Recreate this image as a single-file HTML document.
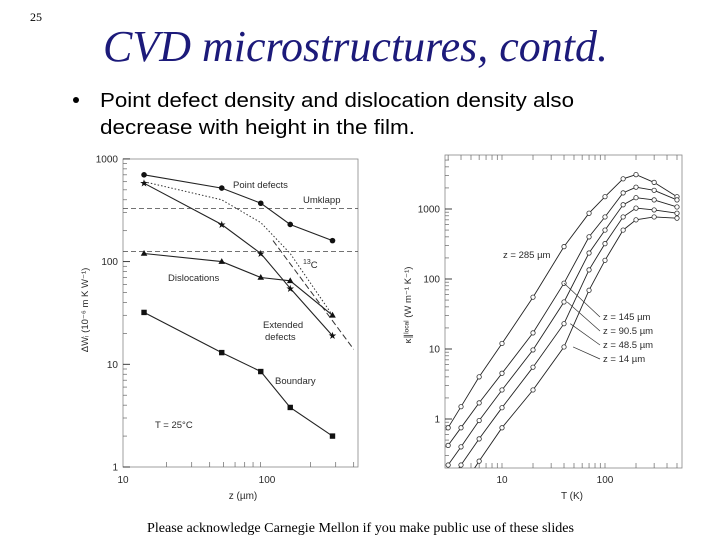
<!DOCTYPE html>
<html><head><meta charset="utf-8"><style>
html,body{margin:0;padding:0;background:#fff;}
svg{display:block;}
</style></head><body>
<svg id="page" width="720" height="540" viewBox="0 0 720 540" xmlns="http://www.w3.org/2000/svg">
<text x="30" y="21" font-family="Liberation Serif, serif" font-size="12" fill="#000">25</text>
<text x="103" y="61" font-family="Liberation Serif, serif" font-style="italic" font-size="44" fill="#1c1a7a" textLength="505" lengthAdjust="spacingAndGlyphs">CVD microstructures, contd.</text>
<circle cx="76" cy="100" r="3" fill="#000"/>
<text x="100" y="107" font-family="Liberation Sans, sans-serif" font-size="20" fill="#000" textLength="474" lengthAdjust="spacingAndGlyphs">Point defect density and dislocation density also</text>
<text x="100" y="134" font-family="Liberation Sans, sans-serif" font-size="20" fill="#000" textLength="315" lengthAdjust="spacingAndGlyphs">decrease with height in the film.</text>
<text x="147" y="532" font-family="Liberation Serif, serif" font-size="14" fill="#000" textLength="427" lengthAdjust="spacingAndGlyphs">Please acknowledge Carnegie Mellon if you make public use of these slides</text>
<g id="left"></g>
<g id="right"></g>
</svg>
<script>
// ---- Left chart data ----
const zPos = [14, 48.5, 90.5, 145, 285];
const pointDefects = [700, 520, 370, 230, 160];
const extendedDefects = [580, 230, 120, 55, 19];
const dislocations = [120, 100, 70, 65, 30];
const boundary = [32, 13, 8.5, 3.8, 2];
const dottedZ = [14, 48.5, 90.5, 145, 285];
const dottedVal = [600, 400, 240, 120, 30];
const dashedZ = [110, 400];
const dashedVal = [160, 14];
const umklapp = 330;
const c13 = 125;
const leftYTicks = [1, 10, 100, 1000];
const leftXTicks = [10, 100];

// ---- Right chart data ----
const temps = [3, 4, 6, 10, 20, 40, 70, 100, 150, 200, 300, 500];
const k285 = [0.75, 1.5, 4, 12, 55, 290, 870, 1500, 2700, 3100, 2400, 1500];
const k145 = [0.42, 0.75, 1.7, 4.5, 17, 87, 400, 770, 1700, 2050, 1850, 1350];
const k90 = [0.22, 0.4, 0.95, 2.6, 9.7, 47, 235, 500, 1150, 1450, 1350, 1070];
const k48 = [0.12, 0.22, 0.52, 1.45, 5.5, 23, 135, 320, 770, 1030, 970, 870];
const k14 = [0.05, 0.1, 0.25, 0.75, 2.6, 10.7, 69, 185, 500, 700, 770, 740];
const curveLabels = ["z = 285 \u00b5m", "z = 145 \u00b5m", "z = 90.5 \u00b5m", "z = 48.5 \u00b5m", "z = 14 \u00b5m"];
const rightYTicks = [1, 10, 100, 1000];
const rightXTicks = [10, 100];

const NS = "http://www.w3.org/2000/svg";
function mk(parent, tag, attrs) {
  const e = document.createElementNS(NS, tag);
  for (const k in attrs) e.setAttribute(k, attrs[k]);
  parent.appendChild(e);
  return e;
}
const INK = "#2a2a2a";
const FONT = "Liberation Sans, sans-serif";

// ---- Left chart ----
const L = document.getElementById('left');
const lx = v => 123 + (Math.log10(v) - 1) * 144;
const ly = v => 467 - Math.log10(v) * 102.7;
let el;
el = mk(L, 'rect', {x:123, y:159, width:235, height:308, fill:'none', stroke:'#888', 'stroke-width':0.8});


for (let d = 0; d < 3; d++) for (let m = 2; m <= 9; m++) {
  const v = Math.pow(10, d) * m;
  el = mk(L, 'line', {x1:123, x2:127, y1:ly(v), y2:ly(v), stroke:'#666', 'stroke-width':0.7});
  
  
}
leftYTicks.forEach(v => {
  el = mk(L, 'line', {x1:123, x2:130, y1:ly(v), y2:ly(v), stroke:INK, 'stroke-width':0.9});
  
  
  el = mk(L, 'text', {x:118, y:ly(v)+3.5, 'text-anchor':'end', 'font-family':FONT, 'font-size':10, fill:INK});
  el.textContent = String(v);
  
  
});
leftXTicks.forEach(v => {
  el = mk(L, 'text', {x:lx(v), y:483, 'text-anchor':'middle', 'font-family':FONT, 'font-size':10, fill:INK});
  el.textContent = String(v);
  
  
});
for (let m = 2; m <= 40; m++) {
  const v = m <= 9 ? m * 10 : (m - 8) * 100;
  if (m > 9 && v > 400) break;
  el = mk(L, 'line', {x1:lx(v), x2:lx(v), y1:467, y2:462, stroke:'#666', 'stroke-width':0.7});
  
  
}
el = mk(L, 'text', {x:243, y:499, 'text-anchor':'middle', 'font-family':FONT, 'font-size':10, fill:INK});
el.textContent = 'z (\u00b5m)';


el = mk(L, 'text', {x:0, y:0, 'text-anchor':'middle', 'font-family':FONT, 'font-size':9.5, fill:INK, transform:'translate(88,310) rotate(-90)'});
el.textContent = '\u0394W\u1d62 (10\u207b\u2076 m K W\u207b\u00b9)';


el = mk(L, 'line', {x1:123, x2:358, y1:ly(umklapp), y2:ly(umklapp), stroke:'#444', 'stroke-width':0.8, 'stroke-dasharray':'5,3'});


el = mk(L, 'line', {x1:123, x2:358, y1:ly(c13), y2:ly(c13), stroke:'#444', 'stroke-width':0.8, 'stroke-dasharray':'5,3'});


function lpath(xs, ys) { return xs.map((x, i) => (i ? 'L' : 'M') + lx(x).toFixed(1) + ',' + ly(ys[i]).toFixed(1)).join(' '); }
el = mk(L, 'path', {d:lpath(dottedZ, dottedVal), fill:'none', stroke:'#333', 'stroke-width':1, 'stroke-dasharray':'1.5,2'});


el = mk(L, 'path', {d:lpath(dashedZ, dashedVal), fill:'none', stroke:'#333', 'stroke-width':1, 'stroke-dasharray':'6,3'});


const leftSeries = [
  ['point-defects', pointDefects, 'circle'],
  ['extended-defects', extendedDefects, 'star'],
  ['dislocations', dislocations, 'tri'],
  ['boundary', boundary, 'square']
];
leftSeries.forEach(([name, vals, mark]) => {
  el = mk(L, 'path', {d:lpath(zPos, vals), fill:'none', stroke:'#222', 'stroke-width':1.1});
  
  
  vals.forEach((v, i) => {
    const cx = lx(zPos[i]), cy = ly(v);
    if (mark === 'circle') el = mk(L, 'circle', {cx, cy, r:2.8, fill:'#111'});
    else if (mark === 'square') el = mk(L, 'rect', {x:cx-2.7, y:cy-2.7, width:5.4, height:5.4, fill:'#111'});
    else if (mark === 'tri') el = mk(L, 'path', {d:`M${cx},${cy-3.5} L${cx+3.3},${cy+2.3} L${cx-3.3},${cy+2.3}Z`, fill:'#111'});
    else el = mk(L, 'text', {x:cx, y:cy+3.5, 'text-anchor':'middle', 'font-family':'DejaVu Sans, sans-serif', 'font-size':10, fill:'#111'});
    if (mark === 'star') el.textContent = '\u2605';
    
    
  });
});
const leftLabels = [
  ['Point defects', 233, 188, 'point-defects-label'],
  ['Umklapp', 303, 203, 'umklapp-label'],
  ['Dislocations', 168, 281, 'dislocations-label'],
  ['Extended', 263, 328, 'extended-defects-label'],
  ['defects', 265, 340, 'extended-defects-label-2'],
  ['Boundary', 275, 384, 'boundary-label'],
  ['T = 25\u00b0C', 155, 428, 'temperature-label']
];
leftLabels.forEach(([t, x, y, n]) => {
  el = mk(L, 'text', {x, y, 'font-family':FONT, 'font-size':9.5, fill:INK});
  el.textContent = t;
  
  
});
el = mk(L, 'text', {x:303, y:268, 'font-family':FONT, 'font-size':9.5, fill:INK});
el.innerHTML = '<tspan font-size="7" dy="-4">13</tspan><tspan dy="4">C</tspan>';



// ---- Right chart ----
const R = document.getElementById('right');
const rx = v => 502 + (Math.log10(v) - 1) * 103;
const ry = v => 419 - Math.log10(v) * 70;
mk(R, 'defs', {}).innerHTML = '<clipPath id="rclip"><rect x="445" y="155" width="237" height="313"/></clipPath>';
el = mk(R, 'rect', {x:445, y:155, width:237, height:313, fill:'none', stroke:'#888', 'stroke-width':0.8});


rightYTicks.forEach(v => {
  el = mk(R, 'line', {x1:445, x2:452, y1:ry(v), y2:ry(v), stroke:INK, 'stroke-width':0.9});
  
  
  el = mk(R, 'text', {x:440, y:ry(v)+3.5, 'text-anchor':'end', 'font-family':FONT, 'font-size':10, fill:INK});
  el.textContent = String(v);
  
  
});
for (let d = -1; d < 4; d++) for (let m = 2; m <= 9; m++) {
  const v = Math.pow(10, d) * m, y = ry(v);
  if (y < 156 || y > 467) continue;
  el = mk(R, 'line', {x1:445, x2:449, y1:y, y2:y, stroke:'#666', 'stroke-width':0.7});
  
  
}
for (let d = 0; d < 3; d++) for (let m = 1; m <= 9; m++) {
  const v = Math.pow(10, d) * m, x = rx(v);
  if (x < 446 || x > 681) continue;
  el = mk(R, 'line', {x1:x, x2:x, y1:468, y2:463, stroke:'#666', 'stroke-width':0.7});
  
  
  el = mk(R, 'line', {x1:x, x2:x, y1:155, y2:160, stroke:'#666', 'stroke-width':0.7});
  
  
}
rightXTicks.forEach(v => {
  el = mk(R, 'text', {x:rx(v), y:483, 'text-anchor':'middle', 'font-family':FONT, 'font-size':10, fill:INK});
  el.textContent = String(v);
  
  
});
el = mk(R, 'text', {x:572, y:499, 'text-anchor':'middle', 'font-family':FONT, 'font-size':10, fill:INK});
el.textContent = 'T (K)';


el = mk(R, 'text', {x:0, y:0, 'text-anchor':'middle', 'font-family':FONT, 'font-size':9.5, fill:INK, transform:'translate(411,305) rotate(-90)'});
el.textContent = '\u03ba\u2225\u02e1\u1d52\u1d9c\u1d43\u02e1 (W m\u207b\u00b9 K\u207b\u00b9)';


const curves = [k285, k145, k90, k48, k14];
const curveNames = ['z285', 'z145', 'z90', 'z48', 'z14'];
const cg = mk(R, 'g', {'clip-path':'url(#rclip)'});


curves.forEach((vals, ci) => {
  const d = temps.map((t, i) => (i ? 'L' : 'M') + rx(t).toFixed(1) + ',' + ry(vals[i]).toFixed(1)).join(' ');
  el = mk(cg, 'path', {d, fill:'none', stroke:'#222', 'stroke-width':0.9});
  
  
  vals.forEach((v, i) => {
    el = mk(cg, 'circle', {cx:rx(temps[i]), cy:ry(v), r:2.2, fill:'#fff', stroke:'#333', 'stroke-width':0.8});
    
    
  });
});
el = mk(R, 'text', {x:503, y:258, 'font-family':FONT, 'font-size':9.5, fill:INK});
el.textContent = curveLabels[0];


[1, 2, 3, 4].forEach((ci, j) => {
  const ty = 320 + j * 14;
  const ax = rx(40 + j * 3);
  const ay = ry(curves[ci][5]);
  el = mk(R, 'line', {x1:ax, y1:ay, x2:600, y2:ty - 3, stroke:'#333', 'stroke-width':0.7});
  
  
  el = mk(R, 'text', {x:603, y:ty, 'font-family':FONT, 'font-size':9.5, fill:INK});
  el.textContent = curveLabels[ci];
  
  
});
</script>
</body></html>
